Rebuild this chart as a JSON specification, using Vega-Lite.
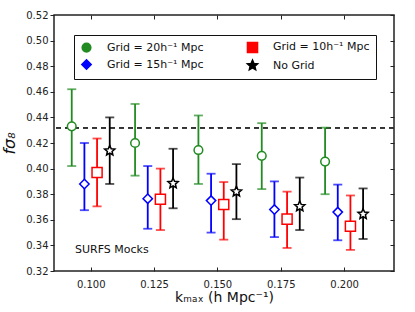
{
  "$schema": "https://vega.github.io/schema/vega-lite/v6.json",
  "width": 340,
  "height": 256,
  "autosize": {"type": "none"},
  "padding": {"left": 54, "top": 15, "right": 21, "bottom": 41},
  "config": {
    "view": {"stroke": "#222", "strokeWidth": 1.5},
    "font": "DejaVu Sans",
    "axis": {"labelFont": "DejaVu Sans", "labelFontSize": 10, "labelColor": "#222", "domain": false, "grid": false, "tickColor": "#222", "tickWidth": 1},
    "legend": {"symbolFillColor": "white"}
  },
  "data": {"values": [
    {"k": 0.0925, "series": "Grid = 20h⁻¹ Mpc", "f": 0.433, "lo": 0.402, "hi": 0.462},
    {"k": 0.1175, "series": "Grid = 20h⁻¹ Mpc", "f": 0.420, "lo": 0.3945, "hi": 0.4505},
    {"k": 0.1425, "series": "Grid = 20h⁻¹ Mpc", "f": 0.4145, "lo": 0.388, "hi": 0.4415},
    {"k": 0.1675, "series": "Grid = 20h⁻¹ Mpc", "f": 0.410, "lo": 0.384, "hi": 0.4355},
    {"k": 0.1925, "series": "Grid = 20h⁻¹ Mpc", "f": 0.4055, "lo": 0.380, "hi": 0.432},
    {"k": 0.0975, "series": "Grid = 15h⁻¹ Mpc", "f": 0.388, "lo": 0.3675, "hi": 0.420},
    {"k": 0.1225, "series": "Grid = 15h⁻¹ Mpc", "f": 0.3765, "lo": 0.353, "hi": 0.402},
    {"k": 0.1475, "series": "Grid = 15h⁻¹ Mpc", "f": 0.375, "lo": 0.350, "hi": 0.396},
    {"k": 0.1725, "series": "Grid = 15h⁻¹ Mpc", "f": 0.368, "lo": 0.3465, "hi": 0.390},
    {"k": 0.1975, "series": "Grid = 15h⁻¹ Mpc", "f": 0.366, "lo": 0.344, "hi": 0.3875},
    {"k": 0.1025, "series": "Grid = 10h⁻¹ Mpc", "f": 0.397, "lo": 0.3705, "hi": 0.4235},
    {"k": 0.1275, "series": "Grid = 10h⁻¹ Mpc", "f": 0.376, "lo": 0.352, "hi": 0.400},
    {"k": 0.1525, "series": "Grid = 10h⁻¹ Mpc", "f": 0.372, "lo": 0.3445, "hi": 0.3895},
    {"k": 0.1775, "series": "Grid = 10h⁻¹ Mpc", "f": 0.3605, "lo": 0.338, "hi": 0.382},
    {"k": 0.2025, "series": "Grid = 10h⁻¹ Mpc", "f": 0.355, "lo": 0.3365, "hi": 0.379},
    {"k": 0.1075, "series": "No Grid", "f": 0.414, "lo": 0.388, "hi": 0.440},
    {"k": 0.1325, "series": "No Grid", "f": 0.3885, "lo": 0.369, "hi": 0.4155},
    {"k": 0.1575, "series": "No Grid", "f": 0.382, "lo": 0.3605, "hi": 0.4035},
    {"k": 0.1825, "series": "No Grid", "f": 0.3705, "lo": 0.352, "hi": 0.393},
    {"k": 0.2075, "series": "No Grid", "f": 0.3645, "lo": 0.345, "hi": 0.3845}
  ]},
  "layer": [
    {
      "mark": {"type": "rule", "strokeDash": [5, 4], "color": "#333", "strokeWidth": 1},
      "encoding": {"y": {"datum": 0.432, "type": "quantitative", "axis": null}}
    },
    {
      "mark": {"type": "rule", "strokeWidth": 1.8},
      "encoding": {
        "x": {"field": "k", "type": "quantitative", "scale": {"domain": [0.0855, 0.2197], "nice": false, "zero": false},
          "axis": {"orient": "bottom", "values": [0.1, 0.125, 0.15, 0.175, 0.2], "format": ".3f", "tickSize": 4, "offset": -4, "labelPadding": 8,
            "title": "kₘₐₓ (h Mpc⁻¹)", "titleFont": "DejaVu Sans", "titleFontSize": 14, "titleFontWeight": "normal", "titleColor": "#111", "titlePadding": 1}},
        "y": {"field": "lo", "type": "quantitative", "scale": {"domain": [0.32, 0.52], "nice": false, "zero": false},
          "axis": {"orient": "left", "values": [0.32, 0.34, 0.36, 0.38, 0.4, 0.42, 0.44, 0.46, 0.48, 0.5, 0.52], "format": ".2f", "tickSize": 4, "labelPadding": 2,
            "title": "fσ₈", "titleFont": "DejaVu Sans", "titleFontSize": 16, "titleFontStyle": "italic", "titleFontWeight": "normal", "titleColor": "#111", "titlePadding": 8}},
        "y2": {"field": "hi"},
        "color": {"field": "series", "type": "nominal",
          "scale": {"domain": ["Grid = 20h⁻¹ Mpc", "Grid = 15h⁻¹ Mpc", "Grid = 10h⁻¹ Mpc", "No Grid"], "range": ["#228B22", "#0000ff", "#ff0000", "#000000"]},
          "legend": {"orient": "none", "legendX": 20, "legendY": 20, "columns": 2, "title": null, "strokeColor": "#111", "fillColor": "white",
            "padding": 6, "labelFontSize": 11, "labelFont": "DejaVu Sans", "labelColor": "#111", "labelOffset": 14, "columnPadding": 40, "rowPadding": 0,
            "encode": {"symbols": {"update": {"fill": {"value": "white"}, "fillOpacity": {"value": 1}}}}}}
      }
    },
    {
      "mark": {"type": "tick", "orient": "horizontal", "size": 9, "thickness": 1.8},
      "encoding": {
        "x": {"field": "k", "type": "quantitative", "axis": null},
        "y": {"field": "lo", "type": "quantitative", "axis": null},
        "color": {"field": "series", "type": "nominal"}
      }
    },
    {
      "mark": {"type": "tick", "orient": "horizontal", "size": 9, "thickness": 1.8},
      "encoding": {
        "x": {"field": "k", "type": "quantitative", "axis": null},
        "y": {"field": "hi", "type": "quantitative", "axis": null},
        "color": {"field": "series", "type": "nominal"}
      }
    },
    {
      "mark": {"type": "point", "fill": "white", "filled": false, "fillOpacity": 1, "opacity": 1},
      "encoding": {
        "x": {"field": "k", "type": "quantitative", "axis": null},
        "y": {"field": "f", "type": "quantitative", "axis": null},
        "color": {"field": "series", "type": "nominal"},
        "shape": {"field": "series", "type": "nominal",
          "scale": {"domain": ["Grid = 20h⁻¹ Mpc", "Grid = 15h⁻¹ Mpc", "Grid = 10h⁻¹ Mpc", "No Grid"],
            "range": ["circle", "diamond", "square", "M0,-1L0.27,-0.37L0.951,-0.309L0.44,0.14L0.588,0.809L0,0.46L-0.588,0.809L-0.44,0.14L-0.951,-0.309L-0.27,-0.37Z"]}},
        "size": {"field": "series", "type": "nominal",
          "scale": {"domain": ["Grid = 20h⁻¹ Mpc", "Grid = 15h⁻¹ Mpc", "Grid = 10h⁻¹ Mpc", "No Grid"], "range": [75, 115, 70, 150]}},
        "strokeWidth": {"field": "series", "type": "nominal",
          "scale": {"domain": ["Grid = 20h⁻¹ Mpc", "Grid = 15h⁻¹ Mpc", "Grid = 10h⁻¹ Mpc", "No Grid"], "range": [1.5, 1.5, 1.5, 1.1]}}
      }
    },
    {
      "data": {"values": [{"k": 0.0938, "f": 0.3364, "label": "SURFS Mocks"}]},
      "mark": {"type": "text", "align": "left", "baseline": "middle", "fontSize": 11, "font": "DejaVu Sans", "color": "#111"},
      "encoding": {
        "x": {"field": "k", "type": "quantitative", "axis": {"orient": "top", "values": [0.1, 0.125, 0.15, 0.175, 0.2], "labels": false, "tickSize": 4, "offset": -4, "title": null}},
        "y": {"field": "f", "type": "quantitative", "axis": {"orient": "right", "values": [0.32, 0.34, 0.36, 0.38, 0.4, 0.42, 0.44, 0.46, 0.48, 0.5, 0.52], "labels": false, "tickSize": 4, "offset": -4, "title": null}},
        "text": {"field": "label"}
      }
    }
  ],
  "resolve": {"axis": {"x": "independent", "y": "independent"}}
}
